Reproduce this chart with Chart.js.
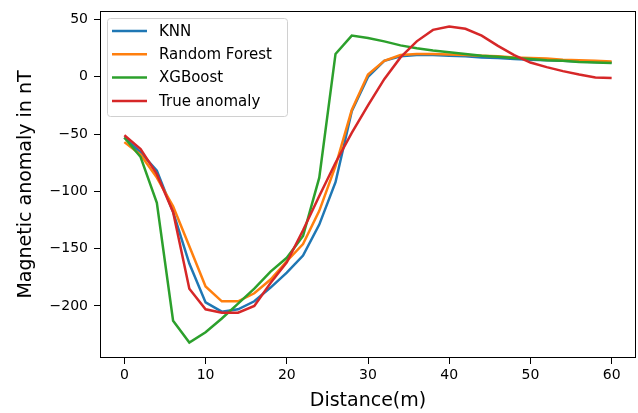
<!DOCTYPE html>
<html>
<head>
<meta charset="utf-8">
<title>Magnetic anomaly predictions</title>
<script src="https://cdn.jsdelivr.net/npm/chart.js@4.4.1/dist/chart.umd.min.js"></script>
<style>
  html, body { margin: 0; padding: 0; background: #fff; }
  #wrap { width: 638px; height: 413px; }
</style>
</head>
<body>
<div id="wrap"><canvas id="anomalyChart" width="638" height="413"></canvas></div>
<script>
// profile positions (m)
const distance = [0, 2, 4, 6, 8, 10, 12, 14, 16, 18, 20, 22, 24, 26, 28, 30,
                  32, 34, 36, 38, 40, 42, 44, 46, 48, 50, 52, 54, 56, 58, 60];

// predicted / measured anomaly in nT
const knn = [-53, -66, -82, -118, -163, -197, -205, -203, -196, -184, -171, -156, -129, -92, -30, 0,
             14, 18, 19, 19, 18.5, 18, 17, 16.5, 15.5, 15, 14.5, 14, 13.5, 13, 12.5];
const randomForest = [-57, -68, -88, -113, -148, -183, -196, -196, -189, -177, -161, -146, -117, -78, -29, 2,
                      14, 19, 20, 20, 19.5, 19, 18.5, 18, 17, 16.5, 16, 15, 14.5, 14, 13.5];
const xgboost = [-53, -70, -110, -213, -232, -223, -211, -198, -185, -170, -158, -139, -88, 20, 36, 34,
                 31, 27.5, 25, 23, 21.5, 20, 18.5, 17.5, 16.5, 15.5, 14.5, 14, 13, 12.5, 12];
const trueAnomaly = [-51, -63, -85, -118, -185, -203, -206, -206, -200, -180, -162, -134, -104, -75, -49, -25,
                     -2, 17, 31, 41, 44, 42, 36, 27, 19, 12.5, 8.5, 5, 2, -0.5, -1];

const xTicks = [0, 10, 20, 30, 40, 50, 60];
const yTicks = [-200, -150, -100, -50, 0, 50];

const FONT = "'DejaVu Sans', sans-serif";

function toPoints(values) {
  return distance.map((d, i) => ({ x: d, y: values[i] }));
}

// frame around the plot area (matplotlib style)
const frame = {
  id: "frame",
  afterDatasetsDraw(chart) {
    const { ctx, chartArea: a } = chart;
    ctx.save();
    ctx.strokeStyle = "#000";
    ctx.lineWidth = 1;
    ctx.strokeRect(a.left + 0.5, a.top + 0.5, a.right - a.left - 1, a.bottom - a.top - 1);
    ctx.restore();
  }
};

// legend box in the upper left corner
const boxLegend = {
  id: "boxLegend",
  afterDraw(chart) {
    const { ctx, chartArea: a } = chart;
    const x0 = a.left + 7, y0 = a.top + 7;
    const w = 180, h = 98, rowH = 23.3;
    ctx.save();
    ctx.fillStyle = "rgba(255,255,255,0.8)";
    ctx.strokeStyle = "#d0d0d0";
    ctx.lineWidth = 1;
    ctx.beginPath();
    ctx.roundRect(x0 + 0.5, y0 + 0.5, w, h, 3);
    ctx.fill();
    ctx.stroke();
    ctx.font = "15px " + FONT;
    ctx.textBaseline = "middle";
    chart.data.datasets.forEach((ds, i) => {
      const cy = y0 + 13 + i * rowH;
      ctx.strokeStyle = ds.borderColor;
      ctx.lineWidth = 2.5;
      ctx.beginPath();
      ctx.moveTo(x0 + 5, cy);
      ctx.lineTo(x0 + 40, cy);
      ctx.stroke();
      ctx.fillStyle = "#000";
      ctx.fillText(ds.label, x0 + 52, cy + 1);
    });
    ctx.restore();
  }
};

function keepTicks(list) {
  return scale => { scale.ticks = list.map(v => ({ value: v })); };
}

new Chart(document.getElementById("anomalyChart"), {
  type: "line",
  data: {
    datasets: [
      { label: "KNN", data: toPoints(knn), borderColor: "#1f77b4", order: 3 },
      { label: "Random Forest", data: toPoints(randomForest), borderColor: "#ff7f0e", order: 2 },
      { label: "XGBoost", data: toPoints(xgboost), borderColor: "#2ca02c", order: 1 },
      { label: "True anomaly", data: toPoints(trueAnomaly), borderColor: "#d62728", order: 0 }
    ]
  },
  options: {
    responsive: false,
    animation: false,
    layout: { padding: { top: 11, right: 2, left: 0, bottom: 0 } },
    elements: {
      line: { borderWidth: 2.5, tension: 0, fill: false },
      point: { radius: 0 }
    },
    plugins: {
      legend: { display: false },
      tooltip: { enabled: false }
    },
    scales: {
      x: {
        type: "linear",
        min: -3,
        max: 63,
        afterBuildTicks: keepTicks(xTicks),
        afterFit: s => { s.height = 55; s.paddingLeft = 0; s.paddingRight = 0; },
        border: { display: false },
        grid: { drawOnChartArea: false, drawTicks: true, tickLength: 6, color: "#000" },
        ticks: { color: "#000", padding: 3, font: { family: FONT, size: 14 }, maxRotation: 0 },
        title: { display: true, text: "Distance(m)", color: "#000", padding: { top: 0, bottom: 1 },
                 font: { family: FONT, size: 19 } }
      },
      y: {
        min: -245.5,
        max: 57.5,
        afterBuildTicks: keepTicks(yTicks),
        afterFit: s => { s.width = 100; s.paddingTop = 0; s.paddingBottom = 0; },
        border: { display: false },
        grid: { drawOnChartArea: false, drawTicks: true, tickLength: 6, color: "#000" },
        ticks: { color: "#000", padding: 6, font: { family: FONT, size: 14 },
                 callback: v => String(v).replace("-", "\u2212") },
        title: { display: true, text: "Magnetic anomaly in nT", color: "#000", padding: { top: 15, bottom: 0 },
                 font: { family: FONT, size: 19 } }
      }
    }
  },
  plugins: [frame, boxLegend]
});
</script>
</body>
</html>
